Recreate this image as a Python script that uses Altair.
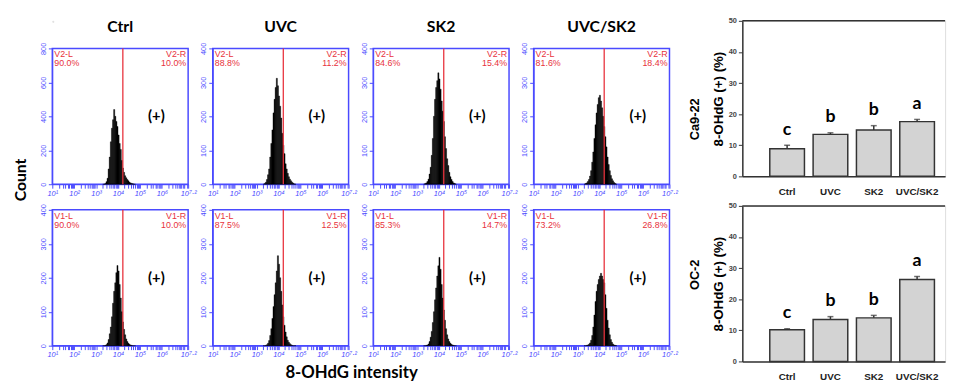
import math
import altair as alt
import pandas as pd

# ---------------- data ----------------
GROUPS = ["Ctrl", "UVC", "SK2", "UVC/SK2"]
LETTERS = ["c", "b", "b", "a"]

# histogram bins (log10 of 8-OHdG intensity), width 0.05 decade
BIN_LEFT = [3.30, 3.35, 3.40, 3.45, 3.50, 3.55, 3.60, 3.65, 3.70, 3.75,
            3.80, 3.85, 3.90, 3.95, 4.00, 4.05, 4.10, 4.15, 4.20, 4.25,
            4.30, 4.35, 4.40, 4.45, 4.50, 4.55, 4.60, 4.65, 4.70, 4.75]
BIN_W = 0.05
GATE = 4.22

# Ca9-22 row (V2 gate)
ca9_ctrl = [0, 1, 5, 15, 35, 90, 160, 250, 330, 380, 440, 400, 370, 340, 290,
            240, 205, 140, 95, 70, 50, 38, 28, 20, 12, 8, 5, 3, 1, 0]
ca9_uvc = [0, 2, 6, 14, 28, 45, 80, 120, 160, 210, 250, 285, 312, 290, 260,
           230, 195, 150, 115, 90, 60, 45, 32, 22, 15, 10, 6, 3, 1, 0]
ca9_sk2 = [0, 2, 4, 8, 15, 30, 50, 85, 135, 200, 250, 285, 305, 328, 310,
           280, 245, 215, 185, 140, 105, 75, 55, 35, 22, 14, 8, 4, 2, 0]
ca9_combo = [0, 2, 4, 8, 14, 24, 40, 65, 95, 135, 175, 210, 235, 255, 262,
             245, 225, 200, 170, 140, 110, 80, 58, 40, 26, 16, 10, 5, 2, 0]
# OC-2 row (V1 gate)
oc2_ctrl = [0, 0, 1, 3, 8, 18, 35, 55, 85, 125, 160, 185, 215, 236, 220,
            180, 140, 100, 70, 48, 32, 20, 12, 7, 4, 2, 1, 0, 0, 0]
oc2_uvc = [0, 0, 1, 3, 7, 15, 30, 50, 80, 115, 150, 185, 220, 265, 240,
           200, 160, 120, 85, 60, 40, 26, 16, 10, 6, 3, 1, 0, 0, 0]
oc2_sk2 = [0, 0, 1, 2, 5, 12, 25, 42, 68, 100, 135, 170, 205, 235, 260,
           225, 180, 140, 105, 75, 50, 32, 20, 12, 7, 4, 2, 1, 0, 0]
oc2_combo = [0, 0, 1, 2, 4, 8, 16, 30, 55, 90, 130, 160, 180, 195, 205,
             213, 205, 195, 185, 150, 110, 75, 52, 32, 18, 10, 5, 2, 1, 0]

TOP_COUNTS = [ca9_ctrl, ca9_uvc, ca9_sk2, ca9_combo]
BOT_COUNTS = [oc2_ctrl, oc2_uvc, oc2_sk2, oc2_combo]
TOP_YMAX = [800, 400, 400, 400]
BOT_YMAX = [400, 400, 400, 400]
TOP_L = [90.0, 88.8, 84.6, 81.6]
TOP_R = [10.0, 11.2, 15.4, 18.4]
BOT_L = [90.0, 87.5, 85.3, 73.2]
BOT_R = [10.0, 12.5, 14.7, 26.8]

# bar charts: mean and SD (upper error)
ca9_vals = [8.9, 13.5, 14.9, 17.6]
ca9_errs = [1.1, 0.5, 1.4, 0.7]
oc2_vals = [10.2, 13.5, 14.0, 26.3]
oc2_errs = [0.3, 0.9, 0.8, 1.0]

# ---------------- styles ----------------
BLUE = "#4a4aff"
RED = "#e8323c"
DARK = "#333333"

MAJOR = [1, 2, 3, 4, 5, 6, 7.2]
MINOR = [n + math.log10(k) for n in range(1, 7) for k in range(2, 10)]
MINOR += [7.0, 7 + math.log10(1.5)]
XTICKS = sorted(MAJOR + MINOR)
XLABEL = ("datum.value == 1 ? '10\u00b9' : datum.value == 2 ? '10\u00b2' : "
          "datum.value == 3 ? '10\u00b3' : datum.value == 4 ? '10\u2074' : "
          "datum.value == 5 ? '10\u2075' : datum.value == 6 ? '10\u2076' : "
          "datum.value == 7.2 ? '10\u2077\u00b7\u00b2' : ''")


def hist_panel(counts, ymax, gname, lpct, rpct, title=None):
    df = pd.DataFrame({"x0": BIN_LEFT,
                       "x1": [b + BIN_W for b in BIN_LEFT],
                       "n": counts})
    xs = alt.Scale(domain=[1, 7.2], nice=False, zero=False)
    ys = alt.Scale(domain=[0, ymax], nice=False, zero=True)
    xaxis = alt.Axis(values=XTICKS, labelExpr=XLABEL, title=None, grid=False,
                     tickSize=4, tickColor=BLUE, domainColor=BLUE,
                     labelColor=BLUE, labelFontSize=7.5, labelFont="Liberation Sans",
                     labelFontStyle="italic", labelPadding=1,
                     labelFlush=False, labelOverlap=False)
    yaxis = alt.Axis(values=[ymax * i / 4 for i in range(5)], title=None,
                     grid=False, tickSize=4, tickColor=BLUE, domainColor=BLUE,
                     labelColor=BLUE, labelFontSize=7.5, labelAngle=270,
                     labelFont="Liberation Sans", labelPadding=1,
                     labelOverlap=False)

    def X(f):
        return alt.X(f, scale=xs, axis=xaxis)

    def Y(f):
        return alt.Y(f, scale=ys, axis=yaxis)

    hist = alt.Chart(df).mark_rect(color="black", stroke="black",
                                   strokeWidth=0.4).encode(
        x=X("x0:Q"), x2="x1:Q", y=Y("n:Q"), y2=alt.datum(0))
    gate = alt.Chart(pd.DataFrame({"g": [GATE]})).mark_rule(
        color=RED, strokeWidth=1.3).encode(x=X("g:Q"))
    ldf = pd.DataFrame({"x": [1.0], "y": [ymax],
                        "t": [f"{gname}-L\n{lpct:.1f}%"]})
    rdf = pd.DataFrame({"x": [7.2], "y": [ymax],
                        "t": [f"{gname}-R\n{rpct:.1f}%"]})
    tl = alt.Chart(ldf).mark_text(
        align="left", baseline="top", dx=2, dy=2, color=RED, fontSize=9,
        font="Liberation Sans", lineBreak="\n", lineHeight=9).encode(
        x=X("x:Q"), y=Y("y:Q"), text="t:N")
    tr = alt.Chart(rdf).mark_text(
        align="right", baseline="top", dx=-2, dy=2, color=RED, fontSize=9,
        font="Liberation Sans", lineBreak="\n", lineHeight=9).encode(
        x=X("x:Q"), y=Y("y:Q"), text="t:N")
    pdf = pd.DataFrame({"x": [5.75], "y": [ymax * 0.5], "t": ["(+)"]})
    plus = alt.Chart(pdf).mark_text(
        font="Lato", fontSize=15, fontWeight="bold", color="black",
        baseline="middle").encode(x=X("x:Q"), y=Y("y:Q"), text="t:N")
    props = dict(width=138, height=138,
                 view=alt.ViewBackground(stroke=BLUE, strokeWidth=1.5))
    if title:
        props["title"] = alt.TitleParams(title, fontSize=16, font="Lato",
                                         fontWeight="bold", offset=7,
                                         anchor="middle", color="black")
    return alt.layer(hist, gate, tl, tr, plus).properties(**props)


def bar_panel(vals, errs, cell, shift):
    df = pd.DataFrame({"g": GROUPS, "v": vals,
                       "top": [v + e for v, e in zip(vals, errs)],
                       "lab": LETTERS})
    df["ly"] = df["top"] + 5
    xs = alt.Scale(domain=GROUPS, paddingInner=0.2, paddingOuter=0.44,
                   align=0.72)
    ys = alt.Scale(domain=[0, 50], nice=False)
    xaxis = alt.Axis(title=None, ticks=False, labelAngle=0, labelFontSize=10,
                     labelFontWeight="bold", labelFont="Liberation Sans",
                     labelPadding=10, labelColor="#222", domainColor=DARK,
                     domainWidth=1.5)
    yaxis = alt.Axis(values=[0, 10, 20, 30, 40, 50], grid=False, tickSize=4,
                     tickColor=DARK, domainColor=DARK, domainWidth=1.5,
                     labelFontSize=7.5, labelFontWeight="bold",
                     labelFont="Liberation Sans", labelColor="#444",
                     labelPadding=2, labelOverlap=False,
                     title="8-OHdG (+) (%)",
                     titleFont="Liberation Sans", titleFontSize=13.5,
                     titleFontWeight="bold", titleColor="black",
                     titlePadding=3)

    x = alt.X("g:N", scale=xs, sort=GROUPS, axis=xaxis)

    def Y(f):
        return alt.Y(f, scale=ys, axis=yaxis)

    bars = alt.Chart(df).mark_bar(fill="#d3d3d3", stroke=DARK,
                                  strokeWidth=1.5).encode(x=x, y=Y("v:Q"))
    err = alt.Chart(df).mark_rule(color=DARK, strokeWidth=1.5).encode(
        x=x, y=Y("v:Q"), y2="top:Q")
    cap = alt.Chart(df).mark_tick(color=DARK, thickness=1.5, size=6).encode(
        x=x, y=Y("top:Q"))
    lett = alt.Chart(df).mark_text(font="Lato", fontSize=18, fontWeight="bold",
                                   baseline="middle", color="black").encode(
        x=x, y=Y("ly:Q"), text="lab:N")
    topline = alt.Chart(pd.DataFrame({"y": [50]})).mark_rule(
        color=DARK, strokeWidth=1.5).encode(y=Y("y:Q"))
    return alt.layer(bars, err, cap, lett, topline).properties(
        width=206, height=158,
        title=alt.TitleParams(cell, orient="left", anchor="middle",
                              fontSize=13, font="Liberation Sans",
                              fontWeight="bold", offset=10, color="black",
                              dx=shift))


panels = []
for i in range(4):
    panels.append(hist_panel(TOP_COUNTS[i], TOP_YMAX[i], "V2", TOP_L[i],
                             TOP_R[i], title=GROUPS[i]))
for i in range(4):
    panels.append(hist_panel(BOT_COUNTS[i], BOT_YMAX[i], "V1", BOT_L[i],
                             BOT_R[i]))

hist_grid = alt.concat(*panels, columns=4, bounds="flush",
                       spacing={"row": 26, "column": 25}).properties(
    title=alt.TitleParams("Count", orient="left", anchor="middle",
                          fontSize=16, font="Lato", fontWeight="bold",
                          offset=10, color="black", dx=9))

spacer = alt.Chart(pd.DataFrame({"a": [0]})).mark_point(opacity=0).encode(
    x=alt.X("a:Q", axis=None), y=alt.Y("a:Q", axis=None)).properties(
    width=1, height=1)

hist_wrap = alt.vconcat(spacer, hist_grid, spacing=-7).properties(
    title=alt.TitleParams("8-OHdG intensity", orient="bottom",
                          anchor="middle", fontSize=17, font="Lato",
                          fontWeight="bold", offset=7, color="black", dx=6))

bar_grid = alt.vconcat(bar_panel(ca9_vals, ca9_errs, "Ca9-22", -21),
                       bar_panel(oc2_vals, oc2_errs, "OC-2", 9),
                       spacing=30, bounds="flush")

chart = alt.hconcat(hist_wrap, bar_grid, spacing=10).configure_view(
    stroke=None).configure(background="white")

chart.save("out.html", embed_options={"renderer": "svg", "actions": False})
